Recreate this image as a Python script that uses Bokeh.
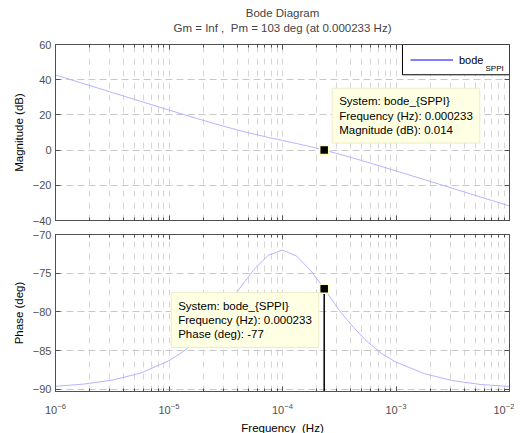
from bokeh.plotting import figure
from bokeh.layouts import column
from bokeh.models import (Range1d, LinearAxis, LogAxis, FixedTicker, Title, Label,
                          Legend, LegendItem, BoxAnnotation)
from bokeh.embed import file_html
from bokeh.resources import INLINE

# ---- data ----
freq_hz = [1e-6, 1.778e-6, 3.162e-6, 5.623e-6, 1e-5, 1.334e-5, 1.778e-5, 2.371e-5,
           3.162e-5, 4.217e-5, 5.623e-5, 7.499e-5, 1e-4, 1.334e-4, 1.778e-4, 2.33e-4,
           3.162e-4, 4.217e-4, 5.623e-4, 7.499e-4, 1e-3, 1.778e-3, 3.162e-3, 5.623e-3, 1e-2]
mag_db = [42.7, 37.7, 32.71, 27.72, 22.76, 20.30, 17.88, 15.51, 13.23, 11.07, 9.07,
          7.22, 5.47, 3.73, 1.88, 0.01, -2.28, -4.56, -6.93, -9.36, -11.81, -16.77,
          -21.76, -26.75, -31.75]
phase_deg = [-89.63, -89.34, -88.83, -87.92, -86.32, -85.14, -83.61, -81.71, -79.43,
             -76.91, -74.50, -72.69, -72.01, -72.8, -74.7, -77.0, -79.8, -82.0, -83.9,
             -85.4, -86.5, -88.0, -88.9, -89.4, -89.65]

x_ticks = [1e-6, 1e-5, 1e-4, 1e-3, 1e-2]
mag_ticks = [-40, -20, 0, 20, 40, 60]
phase_ticks = [-90, -85, -80, -75, -70]
mag_limits = [-40, 60]
phase_limits = [-90.3, -70]
freq_limits = [1e-6, 1e-2]

tip_freq = [0.000233]
tip_mag = [0.014]
tip_phase = [-77]

NB = "\u00a0"
title_lines = ["Bode Diagram", "Gm = Inf ," + NB + " Pm = 103 deg (at 0.000233 Hz)"]
x_label = "Frequency" + NB + " (Hz)"
legend_label = "bode"
legend_sub = "SPPI"
# legend frame (left, right, bottom, top) and subscript anchor, in axis units
legend_box = (1.14e-3, 1e-2, 42.8, 60)
legend_sub_pos = (6.14e-3, 46.4)
tip_mag_text = "System: bode_{SPPI}\nFrequency (Hz): 0.000233\nMagnitude (dB): 0.014"
tip_phase_text = "System: bode_{SPPI}\nFrequency (Hz): 0.000233\nPhase (deg): -77"

FONT = "Liberation Sans"
AX = "#505050"
CURVE = "#b4b4ff"
GRID_H = "#c8c8c8"
GRID_V = "#d6d6d6"
TIP_FILL = "#ffffe3"
TIP_LINE = "#ecebc6"
TXT = "11.5px"

minor_x = [m * 10.0 ** e for e in range(-6, -2) for m in range(2, 10)]


def hide_labels(ax):
    ax.major_label_text_font_size = "1px"
    ax.major_label_text_color = None
    ax.major_label_standoff = 0


def style(p, yticks, top_gap=False):
    xt = FixedTicker(ticks=x_ticks, minor_ticks=minor_x)
    yt = FixedTicker(ticks=yticks)
    bottom = p.below[0]
    left = p.left[0]
    bottom.ticker = xt
    left.ticker = yt
    p.outline_line_color = AX
    p.outline_line_width = 1
    p.background_fill_color = "white"
    p.border_fill_color = "white"
    top = LogAxis(ticker=xt)
    right = LinearAxis(ticker=yt)
    for ax in (bottom, left, top, right):
        ax.axis_line_color = AX
        ax.major_tick_line_color = AX
        ax.minor_tick_line_color = AX
        ax.major_tick_in = 5
        ax.major_tick_out = 0
        ax.minor_tick_in = 3
        ax.minor_tick_out = 0
        ax.major_label_text_font = FONT
        ax.major_label_text_font_size = "11px"
        ax.major_label_text_color = AX
        ax.axis_label_text_font = FONT
        ax.axis_label_text_font_size = TXT
        ax.axis_label_text_font_style = "normal"
        ax.axis_label_text_color = "black"
    for ax in (left, right):
        ax.minor_tick_line_color = None
    left.major_label_standoff = 4
    left.axis_label_standoff = 5
    hide_labels(top)
    if top_gap:
        # a blank, white axis label only reserves the gap between title and frame
        top.axis_label = NB
        top.axis_label_text_font_size = "4px"
        top.axis_label_text_color = "white"
        top.axis_label_standoff = 2
    hide_labels(right)
    p.add_layout(top, "above")
    p.add_layout(right, "right")
    p.xgrid.grid_line_color = GRID_V
    p.xgrid.grid_line_dash = "6 6"
    p.xgrid.minor_grid_line_color = GRID_V
    p.xgrid.minor_grid_line_dash = "6 6"
    p.ygrid.grid_line_color = GRID_H
    p.ygrid.grid_line_dash = "7 4"
    return bottom, left


x_range = Range1d(*freq_limits)

# ---------- magnitude ----------
p1 = figure(frame_width=454, frame_height=176, x_axis_type="log", x_range=x_range,
            y_range=Range1d(*mag_limits), output_backend="svg", toolbar_location=None,
            margin=(4, 0, 0, 9))
b1, l1 = style(p1, mag_ticks, top_gap=True)
l1.axis_label = "Magnitude (dB)"
hide_labels(b1)

p1.title.text = title_lines[0]
p1.title.align = "center"
p1.title.text_font = FONT
p1.title.text_font_size = TXT
p1.title.text_font_style = "normal"
p1.title.standoff = 0
t2 = Title(text=title_lines[1], align="center", text_font=FONT, text_font_size=TXT,
           text_font_style="normal", standoff=2)
p1.add_layout(t2, "above")

p1.line(freq_hz, mag_db, line_color=CURVE, line_width=1)
p1.scatter(tip_freq, tip_mag, marker="square", size=9, fill_color="black",
           line_color="#ffffb8", line_width=1.5)

p1.add_layout(BoxAnnotation(left=legend_box[0], right=legend_box[1],
                            bottom=legend_box[2], top=legend_box[3],
                            fill_color="white", fill_alpha=1.0,
                            line_color="black", line_width=1, line_alpha=1.0,
                            level="annotation"))
leg_line = p1.line(tip_freq, tip_mag, line_color="#0000ff", line_width=1)
leg = Legend(items=[LegendItem(label=legend_label, renderers=[leg_line])],
             location=(347, 146), margin=0, padding=8, spacing=0,
             glyph_width=43, glyph_height=13, label_height=13, label_width=43,
             label_standoff=6, label_text_font=FONT, label_text_font_size="11px",
             label_text_color="black", border_line_alpha=0.0,
             background_fill_alpha=0.0, level="annotation")
p1.add_layout(leg)
p1.add_layout(Label(x=legend_sub_pos[0], y=legend_sub_pos[1], text=legend_sub,
                    text_font=FONT, text_font_size="8px", text_color="black",
                    text_baseline="alphabetic", level="overlay"))

p1.add_layout(Label(x=tip_freq[0], y=tip_mag[0], x_offset=8, y_offset=7,
                    text_align="left", text_baseline="bottom",
                    text=tip_mag_text, text_font=FONT, text_font_size=TXT,
                    text_color="black", text_line_height=1.2, padding=7,
                    background_fill_color=TIP_FILL, border_line_color=TIP_LINE))

# ---------- phase ----------
p2 = figure(frame_width=454, frame_height=157, x_axis_type="log", x_range=x_range,
            y_range=Range1d(*phase_limits), output_backend="svg", toolbar_location=None,
            margin=(4, 0, 0, 9))
b2, l2 = style(p2, phase_ticks)
l2.axis_label = "Phase (deg)"
b2.axis_label = x_label
b2.major_label_standoff = 11
b2.axis_label_standoff = 5

p2.line(freq_hz, phase_deg, line_color=CURVE, line_width=1)
p2.segment(x0=tip_freq, y0=tip_phase, x1=tip_freq, y1=[phase_limits[0]] * len(tip_freq),
           line_color="black", line_width=1.5)
p2.scatter(tip_freq, tip_phase, marker="square", size=9, fill_color="black",
           line_color="#ffffb8", line_width=1.5)
p2.add_layout(Label(x=tip_freq[0], y=tip_phase[0], x_offset=-153, y_offset=-4,
                    text_align="left", text_baseline="top",
                    text=tip_phase_text, text_font=FONT, text_font_size=TXT,
                    text_color="black", text_line_height=1.2, padding=7,
                    background_fill_color=TIP_FILL, border_line_color=TIP_LINE))

layout = column(p1, p2, spacing=0)
open("out.html", "w").write(file_html(layout, INLINE))
